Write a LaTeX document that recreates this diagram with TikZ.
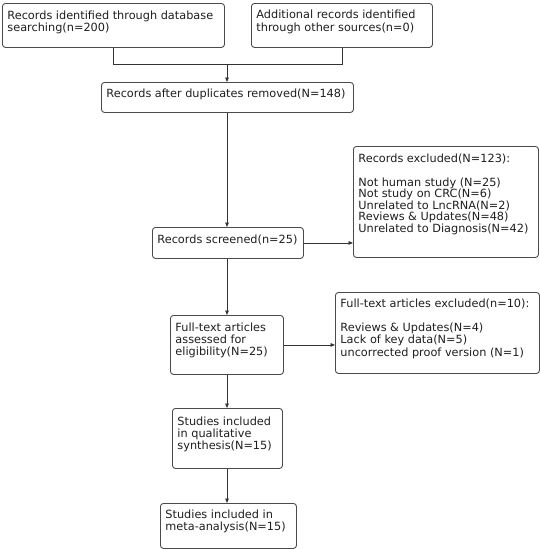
\documentclass[tikz,border=0pt]{standalone}
\usepackage{fontspec}
\setmainfont{DejaVu Sans}
\usetikzlibrary{arrows.meta}
\definecolor{boxc}{HTML}{4A4A4A}
\definecolor{txtc}{HTML}{1E1E1E}
\definecolor{linec}{HTML}{333333}
\newcommand{\bxtext}[4]{\parbox[t][#2][t]{#1}{\raggedright\rule{0pt}{#3}#4}}
\begin{document}
\begin{tikzpicture}[x=1pt,y=-1pt,
  box/.style={draw=boxc, line width=0.9pt, rounded corners=3pt, inner xsep=5pt, inner ysep=0pt,
    anchor=north west, font=\fontsize{11.3}{12.2}\selectfont, text=txtc},
  conn/.style={draw=linec, line width=0.8pt},
  arr/.style={conn, -{Triangle[length=4.5pt,width=3.6pt]}}]
\useasboundingbox (0,0) rectangle (540,549);
\node[box] (A) at (2,3) {\bxtext{212pt}{44pt}{16pt}{Records identified through database\\searching(n=200)}};
\node[box] (B) at (251,3) {\bxtext{171pt}{44pt}{15.5pt}{Additional records identified\\through other sources(n=0)}};
\node[box] (C) at (101,82) {\bxtext{242pt}{30pt}{15pt}{Records after duplicates removed(N=148)}};
\node[box] (D) at (152,227) {\bxtext{141pt}{31pt}{16.5pt}{Records screened(n=25)}};
\node[box, font=\fontsize{11.3}{11.6}\selectfont] (E) at (353,146) {\bxtext{175pt}{111pt}{16.5pt}{Records excluded(N=123):\\[11.6pt]Not human study (N=25)\\Not study on CRC(N=6)\\Unrelated to LncRNA(N=2)\\Reviews \& Updates(N=48)\\Unrelated to Diagnosis(N=42)}};
\node[box] (F) at (170,315) {\bxtext{103pt}{59pt}{16pt}{Full-text articles\\assessed for\\eligibility(N=25)}};
\node[box] (G) at (335,292) {\bxtext{194pt}{81pt}{15.5pt}{Full-text articles excluded(n=10):\\[11.6pt]Reviews \& Updates(N=4)\\Lack of key data(N=5)\\uncorrected proof version (N=1)}};
\node[box] (H) at (172,408) {\bxtext{100pt}{60pt}{17pt}{Studies included\\in qualitative\\synthesis(N=15)}};
\node[box] (I) at (160,503) {\bxtext{126pt}{45pt}{15pt}{Studies included in\\meta-analysis(N=15)}};
\coordinate (J) at (227,64);
\draw[conn] (A.south) |- (J);
\draw[conn] (B.south) |- (J);
\draw[arr] (J) -- (C.north -| J);
\draw[arr] (C.south -| J) -- (D.north -| J);
\draw[arr] (D.east) -- (D.east -| E.west);
\draw[arr] (D.south -| J) -- (F.north -| J);
\draw[arr] (F.east) -- (F.east -| G.west);
\draw[arr] (F.south -| J) -- (H.north -| J);
\draw[arr] (H.south -| J) -- (I.north -| J);
\end{tikzpicture}
\end{document}
